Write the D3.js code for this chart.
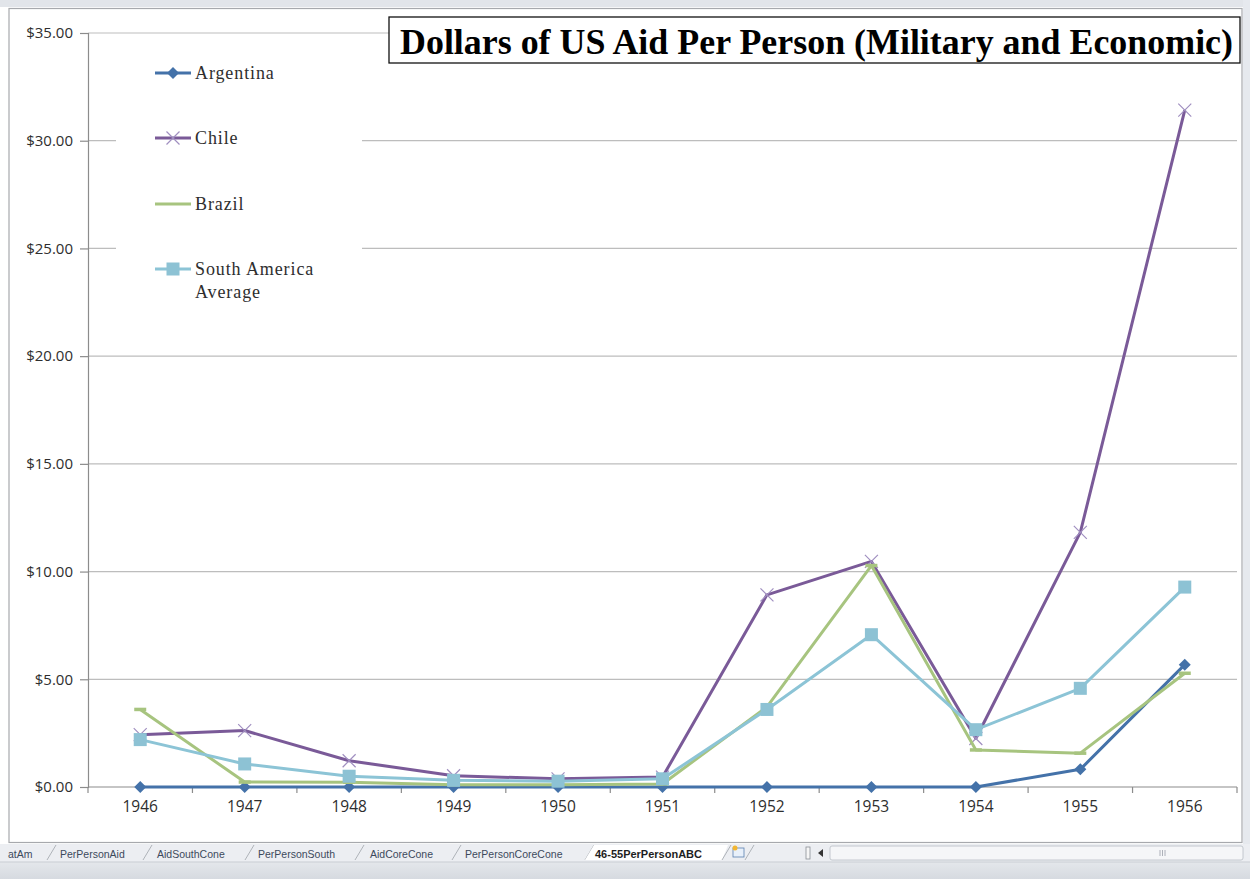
<!DOCTYPE html>
<html>
<head>
<meta charset="utf-8">
<script src="https://cdn.jsdelivr.net/npm/d3@7"></script>
<style>
  html, body { margin: 0; padding: 0; background: #ffffff; }
  svg { display: block; }
</style>
</head>
<body>
<svg id="chart" width="1250" height="879"></svg>
<script>
// ---------- data ----------
const years = ["1946","1947","1948","1949","1950","1951","1952","1953","1954","1955","1956"];
const argentina = [0, 0, 0, 0, 0, 0, 0, 0, 0, 0.82, 5.68];
const chile     = [2.43, 2.62, 1.22, 0.52, 0.38, 0.46, 8.92, 10.47, 2.25, 11.82, 31.42];
const brazil    = [3.6, 0.23, 0.22, 0.11, 0.11, 0.14, 3.72, 10.28, 1.72, 1.57, 5.28];
const saAverage = [2.2, 1.07, 0.5, 0.31, 0.27, 0.38, 3.6, 7.07, 2.66, 4.58, 9.28];
const yTicks = [0, 5, 10, 15, 20, 25, 30, 35];
const seriesNames = ["Argentina", "Chile", "Brazil", "South America|Average"];
const tabLabels = ["atAm", "PerPersonAid", "AidSouthCone", "PerPersonSouth", "AidCoreCone", "PerPersonCoreCone", "46-55PerPersonABC"];
const titleText = "Dollars of US Aid Per Person (Military and Economic)";

// ---------- setup ----------
const svg = d3.select("#chart");
const W = 1250, H = 879;
const plot = { left: 88, right: 1237, top: 33, bottom: 787 };

const x = d3.scaleBand().domain(years).range([plot.left, plot.right]).padding(0);
const y = d3.scaleLinear().domain([0, 35]).range([plot.bottom, plot.top]);

// ---------- window frame ----------
svg.append("rect").attr("x", 0).attr("y", 0).attr("width", W).attr("height", H).attr("fill", "#ffffff");
svg.append("rect").attr("x", 0).attr("y", 0).attr("width", W).attr("height", 7).attr("fill", "#e2e5ea");
svg.append("rect").attr("x", 1243).attr("y", 0).attr("width", 7).attr("height", 845).attr("fill", "#e6e9ee");
svg.append("rect").attr("x", 9).attr("y", 8.5).attr("width", 1233).attr("height", 834).attr("fill", "#ffffff")
  .attr("stroke", "#a7a9ad").attr("stroke-width", 1.2);

// tab bar
svg.append("rect").attr("x", 0).attr("y", 844).attr("width", W).attr("height", 18).attr("fill", "#eceef2");
const grad = svg.append("defs").append("linearGradient").attr("id", "sb").attr("x1", 0).attr("y1", 0).attr("x2", 0).attr("y2", 1);
grad.append("stop").attr("offset", "0%").attr("stop-color", "#e4e7eb");
grad.append("stop").attr("offset", "100%").attr("stop-color", "#d6dae0");
svg.append("rect").attr("x", 0).attr("y", 862).attr("width", W).attr("height", 17).attr("fill", "url(#sb)");
svg.append("line").attr("x1", 0).attr("x2", W).attr("y1", 862).attr("y2", 862).attr("stroke", "#c9cdd3");

const tabX = [8, 60, 157, 258, 370, 465, 595];
const sepX = [47, 143, 245, 355, 452, 585];
sepX.forEach(sx => {
  svg.append("line").attr("x1", sx).attr("y1", 860).attr("x2", sx + 9).attr("y2", 845)
    .attr("stroke", "#9ea3aa").attr("stroke-width", 0.8);
});
// active tab
svg.append("path").attr("d", "M585,860 L594,845 L728,845 L722,860 Z").attr("fill", "#ffffff");
svg.append("line").attr("x1", 722).attr("y1", 860).attr("x2", 731).attr("y2", 845).attr("stroke", "#9ea3aa").attr("stroke-width", 0.8);
svg.append("line").attr("x1", 745).attr("y1", 860).attr("x2", 754).attr("y2", 845).attr("stroke", "#9ea3aa").attr("stroke-width", 0.8);
// new sheet icon
svg.append("rect").attr("x", 733).attr("y", 848).attr("width", 11).attr("height", 9).attr("fill", "#e8f0fa").attr("stroke", "#5a7fb0").attr("stroke-width", 0.8);
svg.append("circle").attr("cx", 735).attr("cy", 848).attr("r", 2.5).attr("fill", "#f2b632");

tabLabels.forEach((t, i) => {
  svg.append("text").attr("x", tabX[i]).attr("y", 857.5)
    .attr("font-family", "'Liberation Sans', Arial, sans-serif")
    .attr("font-size", i === 6 ? 11 : 10.5)
    .attr("font-weight", i === 6 ? "bold" : "normal")
    .attr("fill", i === 6 ? "#1e1e1e" : "#3c4a5c")
    .text(t);
});
// split handle and arrow
svg.append("rect").attr("x", 806).attr("y", 847).attr("width", 4).attr("height", 12).attr("fill", "#f6f6f6").attr("stroke", "#8a8f96").attr("stroke-width", 0.8);
svg.append("path").attr("d", "M818,853 L823,849 L823,857 Z").attr("fill", "#333");
svg.append("rect").attr("x", 830).attr("y", 846).attr("width", 413).attr("height", 14).attr("rx", 2)
  .attr("fill", "#f5f6f8").attr("stroke", "#b7bcc4").attr("stroke-width", 0.8);
[1160, 1162.5, 1165].forEach(gx => {
  svg.append("line").attr("x1", gx).attr("x2", gx).attr("y1", 850).attr("y2", 856).attr("stroke", "#9aa0a8").attr("stroke-width", 0.8);
});

// ---------- gridlines ----------
svg.append("g").selectAll("line").data(yTicks.filter(d => d > 0)).join("line")
  .attr("x1", plot.left).attr("x2", plot.right)
  .attr("y1", d => y(d)).attr("y2", d => y(d))
  .attr("stroke", "#bdbdbd").attr("stroke-width", 1.2);

// ---------- axes ----------
const yAxis = d3.axisLeft(y).tickValues(yTicks).tickSize(8).tickPadding(7).tickFormat(d3.format("$.2f"));
const gy = svg.append("g").attr("transform", `translate(${plot.left},0)`).call(yAxis);
gy.select(".domain").attr("stroke", "#8c8c8c").attr("stroke-width", 1.2);
gy.selectAll(".tick line").attr("stroke", "#8c8c8c").attr("stroke-width", 1.2);
gy.selectAll(".tick text").attr("font-family", "'Open Sans', 'Liberation Sans', sans-serif")
  .attr("font-size", 15).attr("fill", "#2e2e2e");

const xAxis = d3.axisBottom(x).tickSize(0).tickPadding(14);
const gx = svg.append("g").attr("transform", `translate(0,${plot.bottom})`).call(xAxis);
gx.select(".domain").remove();
gx.selectAll(".tick text").attr("font-family", "'Open Sans', 'Liberation Sans', sans-serif")
  .attr("font-size", 15.5).attr("fill", "#2e2e2e");
svg.append("line").attr("x1", plot.left).attr("x2", plot.right).attr("y1", plot.bottom).attr("y2", plot.bottom)
  .attr("stroke", "#8c8c8c").attr("stroke-width", 1.2);
const boundaries = years.map(d => x(d)).concat([x(years[years.length - 1]) + x.bandwidth()]);
svg.append("g").selectAll("line").data(boundaries).join("line")
  .attr("x1", d => d).attr("x2", d => d).attr("y1", plot.bottom).attr("y2", plot.bottom + 6)
  .attr("stroke", "#8c8c8c").attr("stroke-width", 1.2);

// ---------- series ----------
const cx = d => x(d) + x.bandwidth() / 2;
const series = [
  { name: "Argentina", values: argentina, line: "#4472a9", marker: "diamond", mfill: "#4472a9" },
  { name: "Chile", values: chile, line: "#7a5a98", marker: "x", mfill: "#a08fc0" },
  { name: "Brazil", values: brazil, line: "#a7c47f", marker: "dash", mfill: "#a7c47f" },
  { name: "South America Average", values: saAverage, line: "#8cc4d6", marker: "square", mfill: "#8dc2d4" }
];

const lineGen = d3.line().x((d, i) => cx(years[i])).y(d => y(d));

function drawMarker(g, type, px, py, color, legend) {
  if (type === "diamond") {
    g.append("path").attr("d", `M${px},${py - 6} L${px + 6},${py} L${px},${py + 6} L${px - 6},${py} Z`).attr("fill", color);
  } else if (type === "square") {
    g.append("rect").attr("x", px - 6.5).attr("y", py - 6.5).attr("width", 13).attr("height", 13).attr("fill", color);
  } else if (type === "x") {
    const s = 6.5;
    g.append("path").attr("d", `M${px - s},${py - s} L${px + s},${py + s} M${px - s},${py + s} L${px + s},${py - s}`)
      .attr("stroke", color).attr("stroke-width", 1.2).attr("fill", "none");
  } else if (type === "dash" && !legend) {
    g.append("line").attr("x1", px - 6).attr("x2", px + 6).attr("y1", py).attr("y2", py)
      .attr("stroke", color).attr("stroke-width", 3.5);
  }
}

series.forEach(s => {
  const g = svg.append("g");
  g.append("path").datum(s.values).attr("d", lineGen)
    .attr("fill", "none").attr("stroke", s.line).attr("stroke-width", 3).attr("stroke-linejoin", "round");
  s.values.forEach((v, i) => drawMarker(g, s.marker, cx(years[i]), y(v), s.mfill, false));
});

// ---------- legend ----------
svg.append("rect").attr("x", 116).attr("y", 46).attr("width", 246).attr("height", 260).attr("fill", "#ffffff");
const legendY = [73, 138, 204, 269];
series.forEach((s, i) => {
  const g = svg.append("g");
  const ly = legendY[i];
  g.append("line").attr("x1", 155).attr("x2", 191).attr("y1", ly).attr("y2", ly)
    .attr("stroke", s.line).attr("stroke-width", 3);
  drawMarker(g, s.marker, 173, ly, s.mfill, true);
  const parts = seriesNames[i].split("|");
  parts.forEach((p, j) => {
    g.append("text").attr("x", 195).attr("y", ly + 6 + j * 23)
      .attr("font-family", "'Liberation Serif', 'Times New Roman', serif")
      .attr("font-size", 18).attr("fill", "#2e2e2e").attr("letter-spacing", 0.9)
      .text(p);
  });
});

// ---------- title ----------
svg.append("rect").attr("x", 389).attr("y", 17).attr("width", 851).attr("height", 46)
  .attr("fill", "#ffffff").attr("stroke", "#111").attr("stroke-width", 1.3);
svg.append("text").attr("x", 400).attr("y", 54)
  .attr("font-family", "'Liberation Serif', 'Times New Roman', serif")
  .attr("font-weight", "bold").attr("font-size", 35).attr("fill", "#000")
  .attr("textLength", 833).attr("lengthAdjust", "spacingAndGlyphs")
  .text(titleText);
</script>
</body>
</html>
